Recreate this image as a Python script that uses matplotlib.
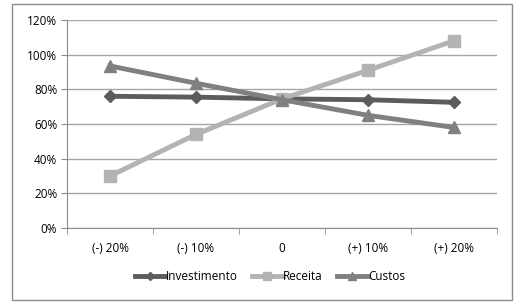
import matplotlib.pyplot as plt
from matplotlib.patches import Rectangle
import numpy as np

categorias = ['(-) 20%', '(-) 10%', '0', '(+) 10%', '(+) 20%']
investimento = [76, 75.5, 74.5, 74, 72.5]
receita = [30, 54, 74.5, 91, 108]
custos = [93.5, 83.5, 74, 65, 58]

plt.rcParams['font.family'] = ['Open Sans', 'DejaVu Sans']

fig = plt.figure(figsize=(5.3, 3.04), dpi=100)
fig.patches.append(Rectangle((12 / 530, 4 / 304), 500 / 530, 296 / 304, transform=fig.transFigure,
                             fill=False, edgecolor='#8c8c8c', linewidth=1))
ax = fig.add_axes([67 / 530, 1 - 228 / 304, 430 / 530, 208 / 304])

x = np.arange(len(categorias))
series = [
    (investimento, 'Investimento', '#5c5c5c', 'D', 6),
    (receita, 'Receita', '#b3b3b3', 's', 8),
    (custos, 'Custos', '#808080', '^', 8),
]
for vals, nome, cor, mk, ms in series:
    ax.plot(x, vals, color=cor, linewidth=3.5, marker=mk, markersize=ms,
            markerfacecolor=cor, markeredgecolor=cor, label=nome, zorder=3)

ax.set_xlim(-0.5, len(categorias) - 0.5)
ax.set_ylim(0, 120)
ax.set_yticks(range(0, 121, 20))
ax.set_yticklabels([f'{v}%' for v in range(0, 121, 20)], fontsize=8.5)
ax.yaxis.grid(True, color='#a6a6a6', linewidth=1)
ax.set_axisbelow(True)

ax.set_xticks(x)
ax.set_xticklabels(categorias, fontsize=8.5)
ax.set_xticks(np.arange(-0.5, len(categorias), 1), minor=True)
ax.tick_params(axis='x', which='major', length=0, pad=10)
ax.tick_params(axis='x', which='minor', length=4, color='#8c8c8c')
ax.tick_params(axis='y', length=4, color='#8c8c8c', pad=3)

for s in ['top', 'right']:
    ax.spines[s].set_visible(False)
for s in ['left', 'bottom']:
    ax.spines[s].set_color('#8c8c8c')

fig.legend(loc='center', bbox_to_anchor=(270 / 530, 1 - 277 / 304), ncol=3, frameon=False,
           fontsize=8.5, handlelength=2.6, handletextpad=0.05, columnspacing=1.2,
           markerscale=0.7)

fig.savefig('out.png', dpi=100)
